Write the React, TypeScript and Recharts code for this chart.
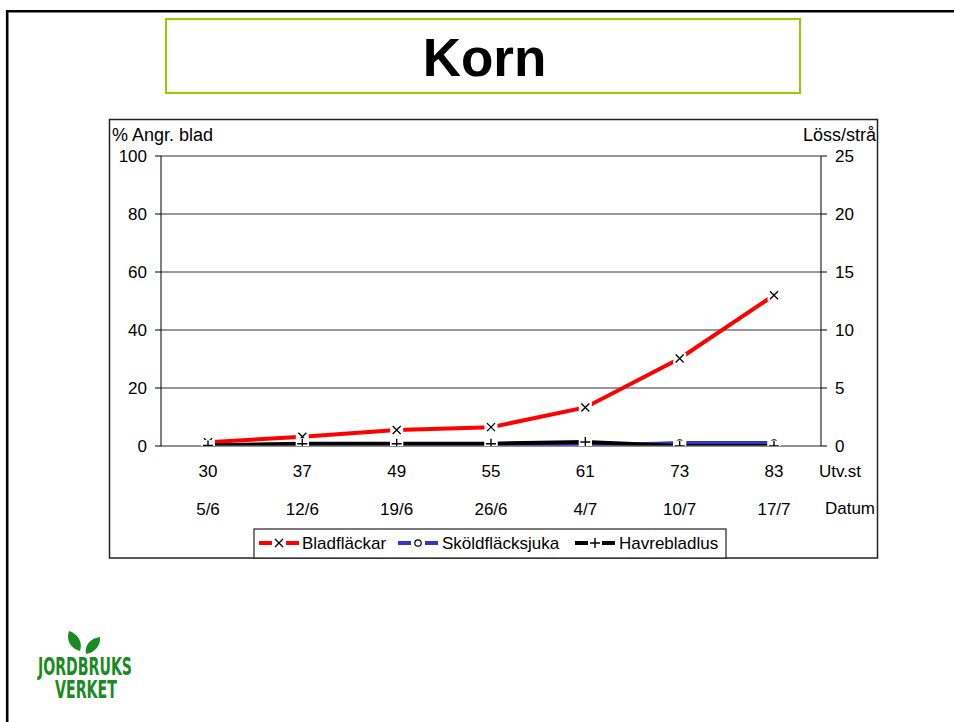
import React from "react";
import { ComposedChart, Line, XAxis, YAxis, CartesianGrid } from "recharts";

const title = "Korn";
const stages = ["30", "37", "49", "55", "61", "73", "83"];
const dates = ["5/6", "12/6", "19/6", "26/6", "4/7", "10/7", "17/7"];
const bladflackar = [1.3, 3.2, 5.5, 6.5, 13.3, 30.2, 52];
const skoldflacksjuka = [0, 0, 0, 0, 0, 1, 1];
const havrebladlus = [0.05, 0.2, 0.2, 0.2, 0.35, 0, 0];
const leftTicks = [0, 20, 40, 60, 80, 100];
const rightTicks = [0, 5, 10, 15, 20, 25];
const seriesNames = ["Bladfläckar", "Sköldfläcksjuka", "Havrebladlus"];
const seriesColors = ["#ff0000", "#3535cc", "#000000"];
const leftTitle = "% Angr. blad";
const rightTitle = "Löss/strå";
const row1Title = "Utv.st";
const row2Title = "Datum";
const logoLines = ["JORDBRUKS", "VERKET"];

const data = stages.map((s, i) => ({
  stage: s,
  date: dates[i],
  a: bladflackar[i],
  b: skoldflacksjuka[i],
  c: havrebladlus[i],
}));

const FONT = '"Liberation Sans", Arial, sans-serif';
const LOGO_FONT = '"DejaVu Sans Condensed", "DejaVu Sans", sans-serif';

const glyph = (kind: string, cx: number, cy: number) => {
  if (kind === "x")
    return (
      <path
        d={`M${cx - 4},${cy - 4}L${cx + 4},${cy + 4}M${cx - 4},${cy + 4}L${cx + 4},${cy - 4}`}
        stroke="#000"
        strokeWidth={1.3}
        fill="none"
      />
    );
  if (kind === "o")
    return <circle cx={cx} cy={cy} r={3.2} stroke="#000" strokeWidth={1.2} fill="#fff" />;
  return (
    <path
      d={`M${cx - 5},${cy}H${cx + 5}M${cx},${cy - 5}V${cy + 5}`}
      stroke="#000"
      strokeWidth={1.4}
      fill="none"
    />
  );
};

const makeDot = (kind: string) => (props: any) => {
  const { cx, cy, index } = props;
  if (cx == null || cy == null) return <g key={`d${kind}${index}`} />;
  return (
    <g key={`d${kind}${index}`}>
      <rect x={cx - 6.5} y={cy - 5.5} width={13} height={11} fill="#fff" />
      {glyph(kind, cx, cy)}
    </g>
  );
};

const XTick = (props: any) => {
  const { x, y, payload } = props;
  const i = stages.indexOf(payload.value);
  return (
    <g>
      <text x={x} y={y + 31} textAnchor="middle" fontSize={17} fontFamily={FONT} fill="#000">
        {payload.value}
      </text>
      <text x={x} y={y + 69} textAnchor="middle" fontSize={17} fontFamily={FONT} fill="#000">
        {dates[i]}
      </text>
    </g>
  );
};

const legendItems = [
  { name: seriesNames[0], color: seriesColors[0], kind: "x", x: 259, textX: 302 },
  { name: seriesNames[1], color: seriesColors[1], kind: "o", x: 398, textX: 442 },
  { name: seriesNames[2], color: seriesColors[2], kind: "+", x: 575, textX: 619 },
];

export default function App() {
  return (
    <div
      style={{
        position: "absolute",
        left: 0,
        top: 0,
        width: 954,
        height: 722,
        background: "#fff",
        fontFamily: FONT,
        overflow: "hidden",
      }}
    >
      <svg width={954} height={722} style={{ position: "absolute", left: 0, top: 0 }}>
        {/* slide border */}
        <path d="M7.2,722V11.2H954" stroke="#000" strokeWidth={2.6} fill="none" />
        {/* title box */}
        <rect x={166} y={19} width={634} height={74} fill="#fff" stroke="#99cc00" strokeWidth={2} />
        <text x={484.5} y={76} textAnchor="middle" fontSize={53} fontWeight="bold" fontFamily={FONT} fill="#000">
          {title}
        </text>
        {/* chart frame */}
        <rect x={109.5} y={119.5} width={768} height={438.5} fill="#fff" stroke="#222" strokeWidth={1.5} />
        <text x={112} y={141} fontSize={18} fontFamily={FONT} fill="#000">
          {leftTitle}
        </text>
        <text x={876} y={141} textAnchor="end" fontSize={18} fontFamily={FONT} fill="#000">
          {rightTitle}
        </text>
        <text x={840} y={477} textAnchor="middle" fontSize={17} fontFamily={FONT} fill="#000">
          {row1Title}
        </text>
        <text x={850} y={514} textAnchor="middle" fontSize={17} fontFamily={FONT} fill="#000">
          {row2Title}
        </text>
        {/* legend */}
        <rect x={254} y={529} width={472} height={29} fill="#fff" stroke="#222" strokeWidth={1.2} />
        {legendItems.map((it) => (
          <g key={it.name}>
            <line x1={it.x} x2={it.x + 40} y1={543} y2={543} stroke={it.color} strokeWidth={4} />
            <rect x={it.x + 13} y={537} width={14} height={12} fill="#fff" />
            {glyph(it.kind, it.x + 20, 543)}
            <text x={it.textX} y={549} fontSize={17} fontFamily={FONT} fill="#000">
              {it.name}
            </text>
          </g>
        ))}
        {/* logo */}
        <path d="M80,651 C70,648 66,640 69,631 C78,634 83,642 80,651 Z" fill="#1a8a22" />
        <path d="M86,654 C84,645 91,638 100,637 C101,646 94,653 86,654 Z" fill="#1a8a22" />
        <text fontSize={24} fontWeight="bold" fontFamily={LOGO_FONT} fill="#1a8a22">
          <tspan x={38} y={675} textLength={94} lengthAdjust="spacingAndGlyphs">
            {logoLines[0]}
          </tspan>
          <tspan x={55} y={698} textLength={62} lengthAdjust="spacingAndGlyphs">
            {logoLines[1]}
          </tspan>
        </text>
      </svg>
      <div style={{ position: "absolute", left: 109, top: 119 }}>
        <ComposedChart
          width={770}
          height={440}
          data={data}
          margin={{ top: 37, right: 13, bottom: 33, left: 7 }}
          style={{ fontFamily: FONT }}
        >
          <CartesianGrid vertical={false} stroke="#333" strokeWidth={1} yAxisId="left" />
          <XAxis
            dataKey="stage"
            type="category"
            interval={0}
            padding={{ left: 47, right: 47 }}
            tickLine={false}
            tickSize={0}
            tickMargin={0}
            height={80}
            axisLine={{ stroke: "#888" }}
            tick={<XTick />}
          />
          <YAxis
            yAxisId="left"
            domain={[0, 100]}
            ticks={leftTicks}
            width={45}
            tickSize={6}
            tickMargin={8}
            axisLine={{ stroke: "#000" }}
            tickLine={{ stroke: "#000" }}
            tick={{ fill: "#000", fontSize: 17, fontFamily: FONT }}
            allowDataOverflow
          />
          <YAxis
            yAxisId="right"
            orientation="right"
            domain={[0, 25]}
            ticks={rightTicks}
            width={45}
            tickSize={6}
            tickMargin={8}
            axisLine={{ stroke: "#000" }}
            tickLine={{ stroke: "#000" }}
            tick={{ fill: "#000", fontSize: 17, fontFamily: FONT }}
            allowDataOverflow
          />
          <Line
            yAxisId="left"
            dataKey="a"
            name={seriesNames[0]}
            type="linear"
            stroke={seriesColors[0]}
            strokeWidth={4}
            dot={makeDot("x")}
            activeDot={false}
            isAnimationActive={false}
          />
          <Line
            yAxisId="left"
            dataKey="b"
            name={seriesNames[1]}
            type="linear"
            stroke={seriesColors[1]}
            strokeWidth={4}
            dot={makeDot("o")}
            activeDot={false}
            isAnimationActive={false}
          />
          <Line
            yAxisId="right"
            dataKey="c"
            name={seriesNames[2]}
            type="linear"
            stroke={seriesColors[2]}
            strokeWidth={4}
            dot={makeDot("+")}
            activeDot={false}
            isAnimationActive={false}
          />
        </ComposedChart>
      </div>
    </div>
  );
}
